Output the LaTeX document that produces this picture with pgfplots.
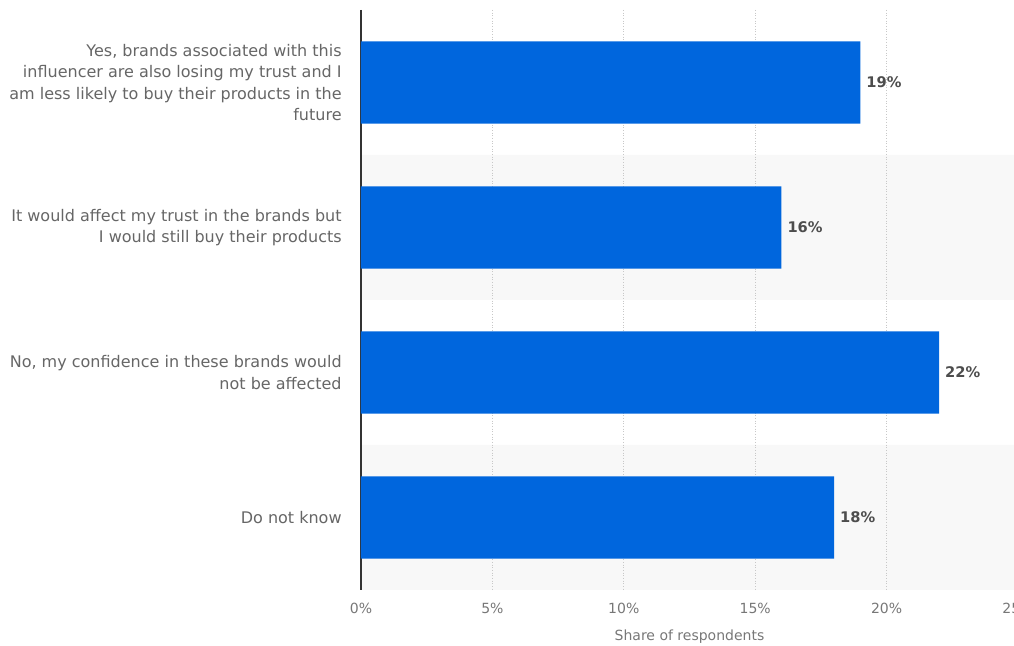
\documentclass[border=0pt]{standalone}
\usepackage{pgfplots}
\pgfplotsset{compat=1.18}
\usepackage{fontspec}
\setmainfont{DejaVu Sans}
\definecolor{barblue}{HTML}{0066DD}
\definecolor{band}{HTML}{F8F8F8}
\definecolor{gridc}{HTML}{C8C8C8}
\definecolor{txt}{HTML}{666666}
\definecolor{ticktxt}{HTML}{777777}
\definecolor{val}{HTML}{4D4D4D}
\definecolor{axc}{HTML}{333333}
\begin{document}
\begin{tikzpicture}
\begin{axis}[
  at={(0,0)}, anchor=south west,
  scale only axis, width=492.75pt, height=435pt,
  set layers,
  /pgf/number format/assume math mode=true,
  xmin=0, xmax=25, ymin=-0.5, ymax=3.5, y dir=reverse,
  axis y line*=left, axis x line*=bottom,
  x axis line style={draw=none},
  y axis line style={draw=axc, line width=1.3pt, -},
  major tick length=0,
  xtick={0,5,10,15,20,25},
  xticklabel={\pgfmathprintnumber{\tick}\%},
  xticklabel style={font=\fontsize{10.5}{12}\selectfont, text=ticktxt, yshift=-6pt},
  ytick={0,1,2,3},
  yticklabels={{Yes, brands associated with this\\influencer are also losing my trust and I\\am less likely to buy their products in the\\future},
               {It would affect my trust in the brands but\\I would still buy their products},
               {No, my confidence in these brands would\\not be affected},
               {Do not know}},
  yticklabel style={align=right, font=\fontsize{12}{16}\selectfont, text=txt, xshift=-11pt},
  xmajorgrids,
  grid style={draw=gridc, line width=0.75pt, dash pattern=on 0.8pt off 1.2pt},
  xlabel={Share of respondents},
  xlabel style={font=\fontsize{10.5}{12}\selectfont, text=ticktxt, yshift=-5.5pt},
  clip=false,
]
\addplot[xbar, bar shift=0pt, bar width=1, fill=band, draw=none, on layer=axis background]
  coordinates {(25,1) (25,3)};
\addplot[xbar, bar shift=0pt, bar width=0.566, fill=barblue, draw=none,
  nodes near coords={\pgfmathprintnumber{\pgfplotspointmeta}\%},
  nodes near coords style={font=\fontsize{11}{13}\selectfont\bfseries, text=val, anchor=west, xshift=1pt}]
  coordinates {(19,0) (16,1) (22,2) (18,3)};
\end{axis}
\pgfresetboundingbox
\useasboundingbox (-270.75pt,-42pt) rectangle (489.75pt,442.5pt);
\end{tikzpicture}
\end{document}
